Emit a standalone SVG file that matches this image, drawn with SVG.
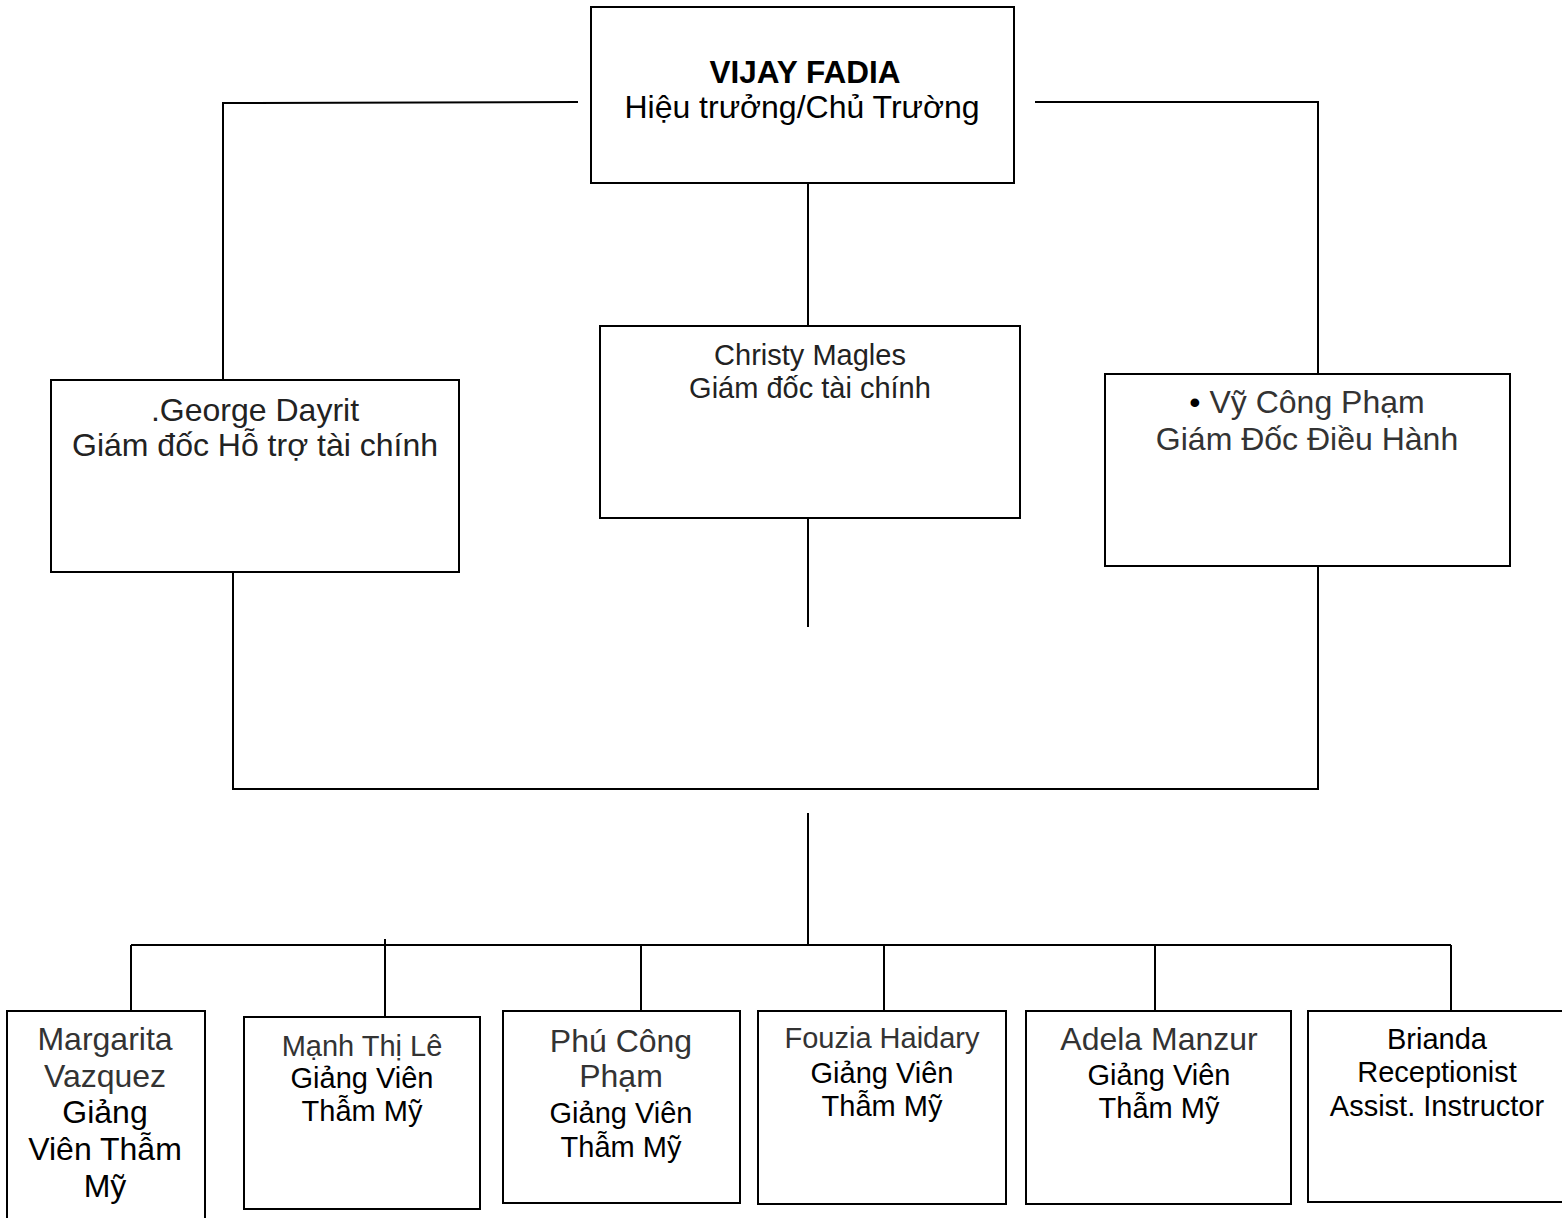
<svg xmlns="http://www.w3.org/2000/svg" width="1562" height="1218" viewBox="0 0 1562 1218">
<style>
.box{fill:#fff;stroke:#000;stroke-width:2}
.ln{fill:none;stroke:#000;stroke-width:2}
text{font-family:"Liberation Sans",Arial,sans-serif;text-anchor:middle;fill:#000}
.nm{fill:#333}
.dk{fill:#222}
.b{font-weight:bold}
.f32{font-size:32px}
.f29{font-size:29px}
.f31{font-size:31.5px}
</style>
<rect width="1562" height="1218" fill="#fff"/>
<g id="connectors">
<polyline class="ln" points="578,102 223,103 223,380"/>
<polyline class="ln" points="1035,102 1318,102 1318,374"/>
<line class="ln" x1="808" y1="183" x2="808" y2="326"/>
<line class="ln" x1="808" y1="518" x2="808" y2="627"/>
<polyline class="ln" points="233,572 233,789 1318,789 1318,566"/>
<line class="ln" x1="808" y1="813" x2="808" y2="945"/>
<line class="ln" x1="131" y1="945" x2="1451" y2="945"/>
<line class="ln" x1="131" y1="945" x2="131" y2="1011"/>
<line class="ln" x1="385" y1="939" x2="385" y2="1017"/>
<line class="ln" x1="641" y1="945" x2="641" y2="1018"/>
<line class="ln" x1="884" y1="945" x2="884" y2="1018"/>
<line class="ln" x1="1155" y1="945" x2="1155" y2="1011"/>
<line class="ln" x1="1451" y1="945" x2="1451" y2="1011"/>
</g>
<g id="vijay">
<rect class="box" x="591" y="7" width="423" height="176"/>
<text class="b f31" x="805" y="83">VIJAY FADIA</text>
<text class="f32" x="802" y="118">Hiệu trưởng/Chủ Trường</text>
</g>
<g id="george">
<rect class="box" x="51" y="380" width="408" height="192"/>
<text class="f32 dk" x="255" y="421">.George Dayrit</text>
<text class="f32 dk" x="255" y="456">Giám đốc Hỗ trợ tài chính</text>
</g>
<g id="christy">
<rect class="box" x="600" y="326" width="420" height="192"/>
<text class="f29 dk" x="810" y="365">Christy Magles</text>
<text class="f29 dk" x="810" y="398">Giám đốc tài chính</text>
</g>
<g id="vy">
<rect class="box" x="1105" y="374" width="405" height="192"/>
<text class="f32 nm" x="1307" y="413"><tspan fill="#000">•</tspan> Vỹ Công Phạm</text>
<text class="f32 nm" x="1307" y="450">Giám Đốc Điều Hành</text>
</g>
<g id="margarita">
<rect class="box" x="7" y="1011" width="198" height="215"/>
<text class="f32 nm" x="105" y="1050">Margarita</text>
<text class="f32 nm" x="105" y="1087">Vazquez</text>
<text class="f32" x="105" y="1123">Giảng</text>
<text class="f32" x="105" y="1160">Viên Thẫm</text>
<text class="f32" x="105" y="1197">Mỹ</text>
</g>
<g id="manh">
<rect class="box" x="244" y="1017" width="236" height="192"/>
<text class="f29 nm" x="362" y="1056">Mạnh Thị Lê</text>
<text class="f29" x="362" y="1088">Giảng Viên</text>
<text class="f29" x="362" y="1121">Thẫm Mỹ</text>
</g>
<g id="phu">
<rect class="box" x="503" y="1011" width="237" height="192"/>
<text class="f32 nm" x="621" y="1052">Phú Công</text>
<text class="f32 nm" x="621" y="1087">Phạm</text>
<text class="f29" x="621" y="1123">Giảng Viên</text>
<text class="f29" x="621" y="1157">Thẫm Mỹ</text>
</g>
<g id="fouzia">
<rect class="box" x="758" y="1011" width="248" height="193"/>
<text class="f29 nm" x="882" y="1048">Fouzia Haidary</text>
<text class="f29" x="882" y="1083">Giảng Viên</text>
<text class="f29" x="882" y="1116">Thẫm Mỹ</text>
</g>
<g id="adela">
<rect class="box" x="1026" y="1011" width="265" height="193"/>
<text class="f32 nm" x="1159" y="1050">Adela Manzur</text>
<text class="f29" x="1159" y="1085">Giảng Viên</text>
<text class="f29" x="1159" y="1118">Thẫm Mỹ</text>
</g>
<g id="brianda">
<rect class="box" x="1308" y="1011" width="260" height="191"/>
<text class="f29" x="1437" y="1049">Brianda</text>
<text class="f29" x="1437" y="1082">Receptionist</text>
<text class="f29" x="1437" y="1116">Assist. Instructor</text>
</g>
</svg>
